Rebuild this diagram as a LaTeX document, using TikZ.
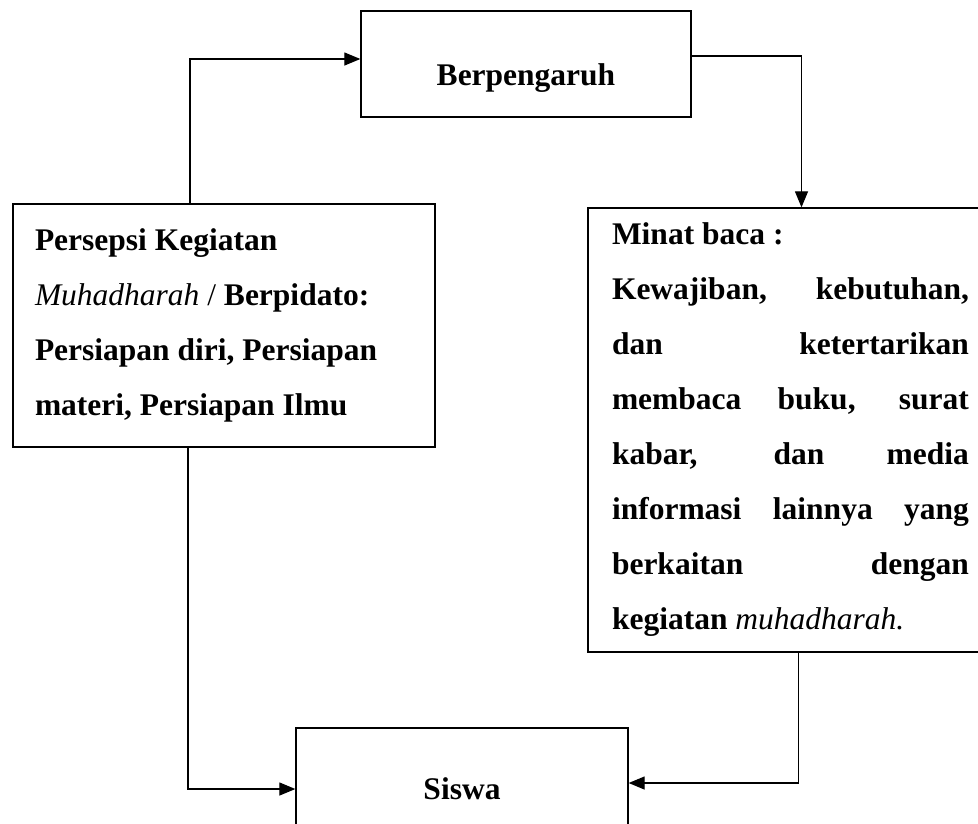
\documentclass[tikz,border=0pt]{standalone}
\usepackage{fontspec}
\setmainfont{Liberation Serif}
\usetikzlibrary{arrows.meta}
\newcommand{\justline}[1]{\makebox[\hsize][s]{\spaceskip=0pt\relax\xspaceskip=0pt\relax #1}}
\newcommand{\istilah}[1]{\textmd{\textit{#1}}}

\begin{document}
\begin{tikzpicture}[x=1pt,y=1pt,yscale=-1,
  box/.style={draw, line width=1.3pt, inner sep=0pt, font=\bfseries\fontsize{31.5}{55}\selectfont},
  arr/.style={line width=1.2pt, -{Triangle[length=16pt,width=13pt]}}]
\useasboundingbox (0,0) rectangle (978,823);
\clip (0,0) rectangle (978,823);

% Boxes
\node[box, minimum width=330, minimum height=106, text height=44, text depth=2] (pengaruh) at (526,64) {Berpengaruh};

\node[box, minimum width=422, minimum height=243, text width=378, inner xsep=22, align=flush left] (persepsi) at (224,325.5) {Persepsi Kegiatan\\
\istilah{Muhadharah} \textmd{/} Berpidato:\\
Persiapan diri, Persiapan\\
materi, Persiapan Ilmu};

\node[box, minimum width=405, minimum height=444, text width=357, inner xsep=24, align=flush left] (minat) at (790.5,430) {Minat baca :\\
\justline{Kewajiban, kebutuhan,}\\
\justline{dan ketertarikan}\\
\justline{membaca buku, surat}\\
\justline{kabar, dan media}\\
\justline{informasi lainnya yang}\\
\justline{berkaitan dengan}\\
kegiatan \istilah{muhadharah.}};

\node[box, minimum width=332, minimum height=122] (siswa) at (462,789) {Siswa};

% Connectors
\draw[arr] ([xshift=-34pt]persepsi.north) |- ([yshift=-5pt]pengaruh.west);
\draw[arr] ([yshift=-8pt]pengaruh.east) -| ([xshift=11pt]minat.north);
\draw[arr] ([xshift=-36pt]persepsi.south) |- (siswa.west);
\draw[arr] ([xshift=8pt]minat.south) |- ([yshift=-6pt]siswa.east);

\end{tikzpicture}
\end{document}
